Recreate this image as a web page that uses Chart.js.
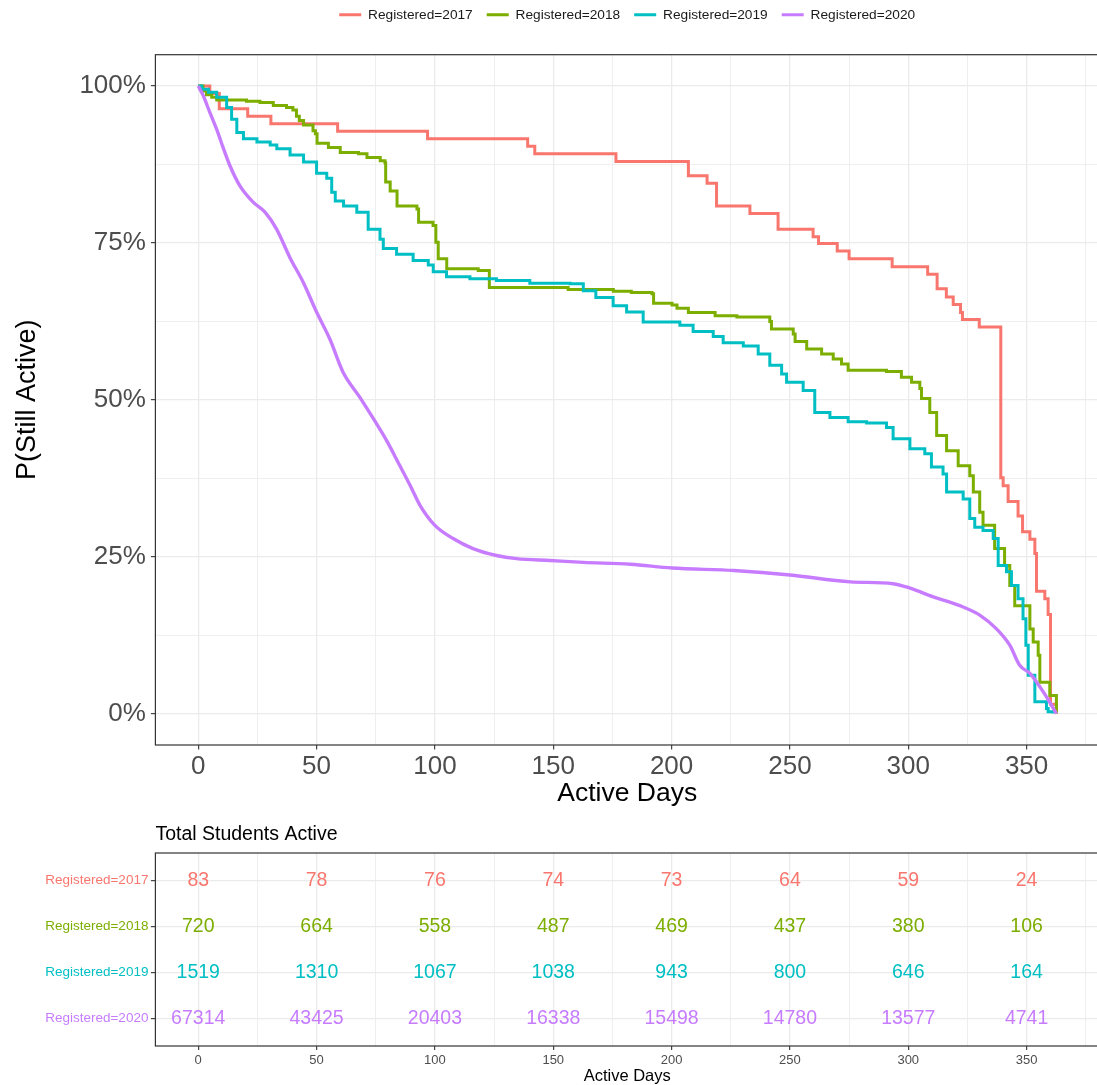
<!DOCTYPE html>
<html>
<head>
<meta charset="utf-8">
<script src="https://cdn.jsdelivr.net/npm/chart.js@4"></script>
<style>
html,body{margin:0;padding:0;background:#ffffff;overflow:hidden;width:1097px;height:1085px;}
#main{position:absolute;left:0;top:0;}
#risk{position:absolute;left:0;top:810px;}
</style>
</head>
<body>
<canvas id="main" width="1100" height="810" style="width:1100px;height:810px"></canvas>
<canvas id="risk" width="1100" height="275" style="width:1100px;height:275px"></canvas>
<script>
// ---------------- data ----------------
const seriesNames = ['Registered=2017', 'Registered=2018', 'Registered=2019', 'Registered=2020'];
const seriesColors = ['#F8766D', '#7CAE00', '#00BFC4', '#C77CFF'];

const days2017 = [0,4.9,8.9,20.9,30.7,58.9,96.9,139.2,142.2,176.5,207.1,215,219,233.1,245,259.8,262.1,270,275,293.2,308.2,312.2,316.1,319,322.1,322.9,330,339.1,340.1,342.2,346.4,348.3,351.4,353.5,354.2,357.7,359.1,360.1,362.6];
const surv2017 = [100,98.8,96.4,95.2,94.0,92.8,91.6,90.4,89.2,88.0,85.7,84.5,80.9,79.7,77.2,76.0,74.9,73.7,72.5,71.2,70.0,67.7,66.4,65.2,63.9,62.8,61.6,37.6,36.3,33.8,31.5,29.0,27.8,25.5,19.5,18.3,15.8,1.5,0];

const days2018 = [0,2,3.5,5.7,7.8,20.4,26.1,31.7,37.3,40,41.5,42.7,44.5,48.5,49.5,50.2,55,60,67.7,71.3,76.9,78.9,79.2,81.1,84,92.4,93.1,99.2,100.4,101.4,105,118.3,123,156.3,175.4,183,191.7,192.4,200.2,202.3,207.1,218.4,227.6,241.5,242.2,251.4,252.2,257.1,263.4,268.3,271.8,274.6,290.8,297.1,301.4,304.9,305.6,309.1,312,316.2,321.1,326,327.5,330.2,331.6,336.5,340.7,342.9,345,351.4,352.8,354.9,355.6,359.8,362.6];
const surv2018 = [100,99.2,98.6,98.2,97.8,97.6,97.4,96.9,96.6,96.2,95.2,94.5,93.8,92.9,92.4,90.9,90.2,89.4,89.2,88.6,88.1,87.8,84.7,83.3,80.9,80.4,78.3,77.8,75.1,72.5,70.9,70.6,67.9,67.6,67.3,67.1,66.9,65.4,65.1,64.6,63.9,63.4,63.2,62.5,61.3,60.5,59.3,58.1,57.3,56.5,55.7,54.7,54.5,53.6,52.8,51.8,50.2,48.0,44.3,41.9,39.5,37.9,35.3,32.1,30.0,26.3,23.6,20.4,17.2,13.5,11.4,9.3,5.0,2.9,0];

const days2019 = [0,1.5,4.3,7.8,12,14.1,16.3,19.1,24.8,30.4,33.2,38.8,44.5,50,54.3,56.4,57.9,61.4,67,71.8,76.8,78.2,83.8,90.8,97.2,99.3,104.9,114.8,126,140.1,157.1,162.7,168,175.3,181,188,203.5,209.1,217.6,221.8,230.3,236.6,241.5,246.5,248.6,255.6,260.5,266.9,274.6,282.4,290.8,293.6,300.7,307,309.8,314.7,316.2,323.2,326,328.1,331.6,335.9,338,341.5,343.6,346.4,348.5,349.7,350.7,353.5,358.4,359.1,361];
const surv2019 = [100,99.5,99.0,98.2,96.6,94.7,92.6,91.6,91.1,90.6,90.0,89.0,87.9,86.1,85.3,83.1,81.7,80.9,79.9,77.2,75.6,74.1,73.2,72.2,71.5,70.4,69.6,69.3,69.0,68.6,68.5,67.4,66.3,65.0,64.0,62.4,61.9,60.9,60.1,59.1,58.6,57.3,55.5,54.1,52.8,51.5,48.0,47.2,46.5,46.3,45.6,43.8,42.2,41.4,39.3,38.2,35.3,34.2,31.1,29.7,29.2,27.9,23.6,22.6,20.4,18.3,15.1,10.9,6.1,1.9,0.8,0.3,0.0];

const days2020 = [0,2.1,4.9,7.8,10.6,13.4,17.6,23.2,28.2,33.1,38.7,44.4,50,55.6,61.2,68.3,74,79.6,85.2,89.5,93.7,100,107.7,116.1,126,134.5,148.6,162.7,182.6,200.2,226.3,250.1,275.5,293.6,300.7,310.6,321.8,330.2,337.3,342.9,347.1,351.4,357,362.6];
const surv2020 = [100,98.5,95.8,93.1,90.1,87.3,84.1,81.5,79.9,77.2,72.7,68.7,64.0,59.7,54.4,50.4,47.0,43.5,39.5,36.4,33.2,30.0,27.9,26.3,25.2,24.7,24.4,24.1,23.8,23.2,22.8,22.1,21.0,20.7,20.0,18.6,17.2,15.7,13.5,10.9,7.7,6.4,3.5,0];

// risk table
const riskTimes = [0, 50, 100, 150, 200, 250, 300, 350];
const risk2017 = [83, 78, 76, 74, 73, 64, 59, 24];
const risk2018 = [720, 664, 558, 487, 469, 437, 380, 106];
const risk2019 = [1519, 1310, 1067, 1038, 943, 800, 646, 164];
const risk2020 = [67314, 43425, 20403, 16338, 15498, 14780, 13577, 4741];

// axes
const xGridTicks = [0,25,50,75,100,125,150,175,200,225,250,275,300,325,350,375];
const xLabelTicks = [0,50,100,150,200,250,300,350];
const yGridTicks = [0,12.5,25,37.5,50,62.5,75,87.5,100];
const yLabelTicks = [0,25,50,75,100];
const riskRowTicks = [1,2,3,4];

// ---------------- rendering ----------------
const FONT = "'Liberation Sans', Arial, Helvetica, sans-serif";
const GRID = '#EBEBEB';
const AXIS = '#333333';
const X_MIN = -18.1, X_MAX = 380.6;

const isMajorX = v => xLabelTicks.includes(v);
const isMajorY = v => yLabelTicks.includes(v);

function pts(d, s) { return d.map((x, i) => ({x: x, y: s[i]})); }

const panelBorder = {
  id: 'panelBorder',
  afterDraw(chart) {
    const {ctx, chartArea: a} = chart;
    ctx.save();
    ctx.strokeStyle = AXIS;
    ctx.lineWidth = 1.2;
    ctx.strokeRect(a.left, a.top, a.right - a.left, a.bottom - a.top);
    ctx.restore();
  }
};

const curveData = [[days2017, surv2017], [days2018, surv2018], [days2019, surv2019], [days2020, surv2020]];

new Chart(document.getElementById('main'), {
  type: 'line',
  data: {
    datasets: curveData.map((c, i) => ({
      label: seriesNames[i],
      data: pts(c[0], c[1]),
      borderColor: seriesColors[i],
      backgroundColor: seriesColors[i],
      borderWidth: i === 3 ? 3.4 : 3,
      stepped: i === 3 ? false : 'before',
      cubicInterpolationMode: i === 3 ? 'monotone' : 'default',
      pointRadius: 0,
      pointHoverRadius: 0,
      fill: false,
      order: 4 - i
    }))
  },
  options: {
    responsive: false,
    animation: false,
    devicePixelRatio: 1,
    layout: { padding: { top: -6, right: 1, bottom: 0, left: 0 } },
    plugins: {
      tooltip: { enabled: false },
      legend: {
        position: 'top', align: 'center', fullSize: false, weight: 3000,
        labels: {
          boxWidth: 22, boxHeight: 3, padding: 14, color: '#1a1a1a',
          font: { family: FONT, size: 13.7 },
          sort: (a, b) => a.datasetIndex - b.datasetIndex,
          generateLabels: (chart) => Chart.defaults.plugins.legend.labels.generateLabels(chart)
            .map(l => Object.assign(l, { lineWidth: 0, fillStyle: l.strokeStyle }))
        }
      },
      subtitle: {
        display: true, text: '', fullSize: true,
        font: { size: 1, lineHeight: 1 }, padding: { top: 0, bottom: 22 }
      }
    },
    scales: {
      x: {
        type: 'linear', min: X_MIN, max: X_MAX, bounds: 'data',
        afterBuildTicks: s => { s.ticks = xGridTicks.map(v => ({ value: v })); },
        afterFit: s => { s.height = 65; },
        grid: {
          color: GRID,
          lineWidth: c => (c.tick && isMajorX(c.tick.value)) ? 1.3 : 0.8,
          drawTicks: true, tickLength: 4.5,
          tickColor: c => (c.tick && isMajorX(c.tick.value)) ? AXIS : 'rgba(0,0,0,0)',
          tickWidth: 1.1
        },
        border: { display: false },
        ticks: {
          autoSkip: false, maxRotation: 0, padding: 4,
          color: '#4D4D4D', font: { family: FONT, size: 26, lineHeight: 1 },
          callback: v => isMajorX(v) ? String(v) : ''
        },
        title: {
          display: true, text: 'Active Days', color: '#000000',
          font: { family: FONT, size: 26.5, lineHeight: 1 }, padding: { top: 0, bottom: 3 }
        }
      },
      y: {
        type: 'linear', min: -5, max: 105, bounds: 'data',
        afterBuildTicks: s => { s.ticks = yGridTicks.map(v => ({ value: v })); },
        afterFit: s => { s.width = 155.4; },
        grid: {
          color: GRID,
          lineWidth: c => (c.tick && isMajorY(c.tick.value)) ? 1.3 : 0.8,
          drawTicks: true, tickLength: 4.5,
          tickColor: c => (c.tick && isMajorY(c.tick.value)) ? AXIS : 'rgba(0,0,0,0)',
          tickWidth: 1.1
        },
        border: { display: false },
        ticks: {
          autoSkip: false, padding: 5,
          color: '#4D4D4D', font: { family: FONT, size: 26 },
          callback: v => isMajorY(v) ? (v + '%') : ''
        },
        title: {
          display: true, text: 'P(Still Active)', color: '#000000',
          font: { family: FONT, size: 27, lineHeight: 1 }, padding: { top: 14, bottom: 0 }
        }
      }
    }
  },
  plugins: [panelBorder]
});

// ---------------- risk table ----------------
const riskCounts = [risk2017, risk2018, risk2019, risk2020];

const riskText = {
  id: 'riskText',
  afterDatasetsDraw(chart) {
    const ctx = chart.ctx;
    ctx.save();
    ctx.font = '19.5px ' + FONT;
    ctx.textAlign = 'center';
    ctx.textBaseline = 'middle';
    chart.data.datasets.forEach((ds, i) => {
      const meta = chart.getDatasetMeta(i);
      ctx.fillStyle = seriesColors[i];
      meta.data.forEach((el, j) => {
        ctx.fillText(String(riskCounts[i][j]), el.x, el.y);
      });
    });
    ctx.restore();
  }
};

new Chart(document.getElementById('risk'), {
  type: 'scatter',
  data: {
    datasets: riskCounts.map((row, i) => ({
      label: seriesNames[i],
      data: riskTimes.map(t => ({ x: t, y: riskRowTicks[i] })),
      pointRadius: 0, pointHoverRadius: 0, showLine: false
    }))
  },
  options: {
    responsive: false,
    animation: false,
    devicePixelRatio: 1,
    layout: { padding: { top: 0, right: 1, bottom: 0, left: 0 } },
    plugins: {
      tooltip: { enabled: false },
      legend: { display: false },
      title: {
        display: true, text: 'Total Students Active', align: 'start', fullSize: false,
        color: '#000000', font: { family: FONT, size: 19.5, weight: 'normal', lineHeight: 1.2 },
        padding: { top: 12.5, bottom: 7.1 }
      }
    },
    scales: {
      x: {
        type: 'linear', min: X_MIN, max: X_MAX, bounds: 'data',
        afterBuildTicks: s => { s.ticks = xGridTicks.map(v => ({ value: v })); },
        afterFit: s => { s.height = 39; },
        grid: {
          color: GRID,
          lineWidth: c => (c.tick && isMajorX(c.tick.value)) ? 1.3 : 0.8,
          drawTicks: true, tickLength: 4,
          tickColor: c => (c.tick && isMajorX(c.tick.value)) ? AXIS : 'rgba(0,0,0,0)',
          tickWidth: 1.1
        },
        border: { display: false },
        ticks: {
          autoSkip: false, maxRotation: 0, padding: 3.5,
          color: '#4D4D4D', font: { family: FONT, size: 13, lineHeight: 1 },
          callback: v => isMajorX(v) ? String(v) : ''
        },
        title: {
          display: true, text: 'Active Days', color: '#000000',
          font: { family: FONT, size: 16.5, lineHeight: 1 }, padding: { top: 0, bottom: 0 }
        }
      },
      y: {
        type: 'linear', min: 0.4, max: 4.6, reverse: true, bounds: 'data',
        afterBuildTicks: s => { s.ticks = riskRowTicks.map(v => ({ value: v })); },
        afterFit: s => { s.width = 155.4; },
        grid: {
          color: GRID, lineWidth: 1.3,
          drawTicks: true, tickLength: 4.5, tickColor: AXIS, tickWidth: 1.1
        },
        border: { display: false },
        ticks: {
          autoSkip: false, padding: 2.5,
          color: c => (c.tick ? seriesColors[c.tick.value - 1] : '#000000'),
          font: { family: FONT, size: 13.5 },
          callback: v => seriesNames[v - 1]
        }
      }
    }
  },
  plugins: [riskText, panelBorder]
});
</script>
</body>
</html>
